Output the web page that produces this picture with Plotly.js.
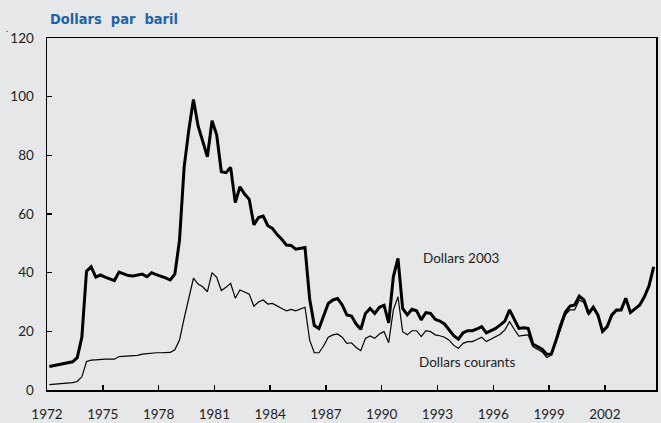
<!DOCTYPE html>
<html>
<head>
<meta charset="utf-8">
<script src="https://cdn.plot.ly/plotly-3.0.1.min.js"></script>
<style>
html,body{margin:0;padding:0;background:#e6e7e9;}
#chart{width:661px;height:423px;}
</style>
</head>
<body>
<div id="chart"></div>
<script>
// Quarterly observations, 1972Q1 .. 2004Q3
const startYear = 1972;
const real2003 = [
  8.0, 8.3, 8.7, 9.0,
  9.3, 9.6, 11.0, 18.0,
  40.5, 42.0, 38.5, 39.2,
  38.5, 38.0, 37.3, 40.2,
  39.5, 39.0, 38.9, 39.2,
  39.5, 38.6, 40.0, 39.3,
  38.8, 38.2, 37.5, 39.5,
  51.0, 76.0, 88.6, 99.0,
  90.0, 85.0, 79.5, 91.8,
  87.0, 74.4, 74.1, 75.9,
  63.9, 69.3, 66.8, 65.0,
  56.3, 58.8, 59.3, 56.0,
  55.1, 53.0, 51.4, 49.4,
  49.3, 48.0, 48.3, 48.6,
  31.0, 22.0, 21.0, 25.0,
  29.5, 30.7, 31.2, 29.0,
  25.6, 25.2, 22.5, 20.7,
  26.1, 27.8, 26.1, 28.2,
  28.9, 22.9, 38.6, 44.9,
  27.8, 25.6, 27.5, 27.0,
  23.9, 26.4, 26.1, 24.1,
  23.5, 22.5, 20.6, 18.5,
  17.3, 19.5, 20.2, 20.2,
  20.8, 21.6, 19.5, 20.3,
  21.0, 22.2, 23.5, 27.3,
  23.9, 21.0, 21.2, 21.0,
  15.7, 14.8, 13.9, 12.2,
  12.3, 17.0, 22.2, 26.5,
  28.6, 29.0, 32.0, 30.7,
  26.1, 28.2, 25.6, 20.0,
  21.6, 25.6, 27.3, 27.3,
  31.3, 26.4, 27.8, 29.0,
  31.8, 35.5, 42.0
];
const nominal = [
  1.8, 1.9, 2.0, 2.1,
  2.3, 2.5, 2.9, 4.5,
  9.7, 10.2, 10.3, 10.5,
  10.5, 10.5, 10.5, 11.4,
  11.5, 11.6, 11.6, 11.8,
  12.2, 12.4, 12.7, 12.7,
  12.7, 12.7, 12.8, 13.7,
  17.0, 24.4, 31.5, 38.1,
  36.1, 35.2, 33.5, 40.0,
  38.4, 33.9, 35.0, 36.4,
  31.3, 34.1, 33.4, 32.7,
  28.6, 30.0, 30.7, 29.3,
  29.5, 28.5, 27.8, 27.0,
  27.5, 27.0, 27.6, 28.2,
  17.0, 12.7, 12.7, 15.0,
  18.0, 18.8, 19.1, 18.0,
  15.9, 16.1, 14.5, 13.4,
  17.6, 18.4, 17.6, 19.1,
  19.9, 16.1, 27.3, 31.8,
  19.9, 18.8, 20.2, 20.2,
  18.2, 20.2, 19.9, 18.8,
  18.5, 18.0, 17.0, 15.2,
  14.2, 15.9, 16.5, 16.5,
  17.2, 18.0, 16.5, 17.3,
  18.2, 19.0, 20.5, 23.3,
  20.7, 18.4, 18.6, 18.8,
  14.8, 14.0, 13.0, 11.1,
  11.9, 16.1, 21.0, 25.6,
  27.3, 27.3, 30.7, 29.8,
  25.5, 27.8, 25.2, 19.6,
  21.3, 25.3, 27.0, 27.1,
  31.3, 26.4, 27.8, 29.0,
  31.8, 35.5, 42.0
];
const xTickVals = [1972, 1975, 1978, 1981, 1984, 1987, 1990, 1993, 1996, 1999, 2002];
const yTickVals = [0, 20, 40, 60, 80, 100, 120];
const titleText = "Dollars&nbsp;&nbsp;par&nbsp;&nbsp;baril";
const labelReal = "Dollars 2003";
const labelNominal = "Dollars courants";

const t = real2003.map((_, i) => startYear + 0.125 + 0.25 * i);

const bg = "#e6e7e9";
const tickFont = {family: "Lato, 'Open Sans', sans-serif", size: 13.5, color: "#222"};

const traces = [
  {x: t, y: nominal, type: "scatter", mode: "lines", line: {color: "#000", width: 1.2}, hoverinfo: "skip"},
  {x: t, y: real2003, type: "scatter", mode: "lines", line: {color: "#000", width: 3}, hoverinfo: "skip"}
];

const layout = {
  width: 661, height: 423,
  paper_bgcolor: bg, plot_bgcolor: bg,
  margin: {l: 47, r: 5, t: 38, b: 33},
  showlegend: false,
  xaxis: {
    range: [1972, 2004.75], tickvals: xTickVals, ticktext: xTickVals.map(String),
    ticks: "inside", ticklen: 5, tickwidth: 1.5, tickcolor: "#000",
    showline: true, linecolor: "#000", linewidth: 1.5, mirror: true,
    showgrid: false, zeroline: false, tickfont: tickFont, ticklabelstandoff: 11
  },
  yaxis: {
    range: [0, 120], tickvals: yTickVals, ticktext: yTickVals.map(String),
    ticks: "inside", ticklen: 5, tickwidth: 1.5, tickcolor: "#000",
    showline: true, linecolor: "#000", linewidth: 1.5, mirror: true,
    showgrid: false, zeroline: false, tickfont: tickFont, ticklabelstandoff: 9
  },
  annotations: [
    {xref: "paper", yref: "paper", x: 0.002, y: 1.0, yshift: 9, xanchor: "left", yanchor: "bottom",
     text: "<b>" + titleText + "</b>", showarrow: false,
     font: {family: "'DejaVu Sans Condensed', 'DejaVu Sans', sans-serif", size: 14.5, color: "#1f64a6"}},
    {xref: "x", yref: "y", x: 1994.3, y: 45, text: labelReal, showarrow: false,
     font: {family: "Lato, 'Open Sans', sans-serif", size: 13.5, color: "#222"}},
    {xref: "x", yref: "y", x: 1994.56, y: 9.6, text: labelNominal, showarrow: false,
     font: {family: "Lato, 'Open Sans', sans-serif", size: 13.5, color: "#222"}},
    {xref: "paper", yref: "paper", x: -0.07, y: 1.05, xanchor: "left", text: ".", showarrow: false,
     font: {family: "Lato, sans-serif", size: 10, color: "#444"}}
  ]
};

Plotly.newPlot("chart", traces, layout, {staticPlot: true, displayModeBar: false});
</script>
</body>
</html>
